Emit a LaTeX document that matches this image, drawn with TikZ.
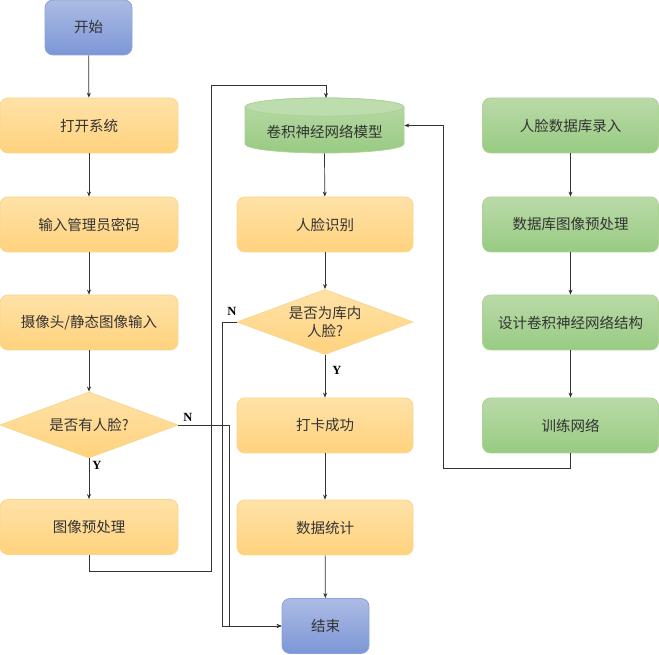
\documentclass[tikz,border=0pt]{standalone}
\usepackage{fontspec}
\newfontfamily\cjk{Noto Sans CJK SC}
\newfontfamily\tnr{Liberation Serif}
\usetikzlibrary{shapes.geometric,arrows.meta}
\definecolor{txt}{HTML}{333333}
\definecolor{ln}{HTML}{333333}
\definecolor{otop}{RGB}{255,226,168}
\definecolor{obot}{RGB}{255,210,125}
\definecolor{odraw}{RGB}{248,214,140}
\definecolor{gtop}{RGB}{186,218,168}
\definecolor{gbot}{RGB}{152,203,130}
\definecolor{gdraw}{RGB}{172,210,150}
\definecolor{gcap}{RGB}{190,221,174}
\definecolor{btop}{RGB}{172,187,228}
\definecolor{bbot}{RGB}{124,151,214}
\definecolor{bdraw}{RGB}{140,163,219}
\tikzset{
  base/.style={font=\cjk\fontsize{14.5}{18}\selectfont, text=txt, inner sep=0pt, line width=0.8pt},
  orangebox/.style={base, rectangle, rounded corners=8pt, minimum width=178pt, minimum height=55pt,
     top color=otop, bottom color=obot, draw=odraw},
  greenbox/.style={base, rectangle, rounded corners=8pt, minimum width=176pt, minimum height=55pt,
     top color=gtop, bottom color=gbot, draw=gdraw},
  bluebox/.style={base, rectangle, rounded corners=8pt, minimum width=87pt, minimum height=55pt,
     top color=btop, bottom color=bbot, draw=bdraw},
  decision/.style={base, diamond, aspect=2.7, align=center, minimum width=178pt, minimum height=66pt,
     top color=otop, bottom color=obot, draw=odraw},
  arr/.style={draw=ln, line width=0.7pt, -{Stealth[length=5pt,width=4pt]}},
  yn/.style={font=\tnr\bfseries\fontsize{12.5}{14}\selectfont, text=black, inner sep=0pt},
}
\begin{document}
\begin{tikzpicture}[x=1pt,y=1pt]
\useasboundingbox (0,0) rectangle (659,655);
% column 1
\node[bluebox] (start) at (88.5,627.5) {开始};
\node[orangebox] (open) at (89,529.5) {打开系统};
\node[orangebox] (pwd) at (89,430.5) {输入管理员密码};
\node[orangebox] (cam) at (89,332.5) {摄像头/静态图像输入};
\node[decision] (d1) at (89,230) {是否有人脸?};
\node[orangebox] (pre) at (89,128) {图像预处理};
% column 2
\node[base, minimum width=159pt, minimum height=55pt] (cyl) at (324.5,529.5) {};
\shade[top color=gtop, bottom color=gbot, draw=gdraw, line width=0.8pt]
  (245,548) -- (245,511) arc[start angle=180,end angle=360,x radius=79.5pt,y radius=9pt]
  -- (404,548) arc[start angle=0,end angle=180,x radius=79.5pt,y radius=9pt] -- cycle;
\fill[gcap] (324.5,548) ellipse[x radius=79.5pt,y radius=9pt];
\draw[gdraw, line width=0.8pt] (324.5,548) ellipse[x radius=79.5pt,y radius=9pt];
\node[base] (cyltext) at (324.5,523) {卷积神经网络模型};
\node[orangebox, minimum width=176pt] (rec) at (325,430.5) {人脸识别};
\node[decision, minimum width=176pt, minimum height=65pt] (d2) at (325,333) {是否为库内\\人脸?};
\node[orangebox, minimum width=176pt] (ok) at (325,229.5) {打卡成功};
\node[orangebox, minimum width=176pt] (stat) at (325,127.5) {数据统计};
\node[bluebox] (end) at (325.5,29) {结束};
% column 3
\node[greenbox] (db) at (570.5,529.5) {人脸数据库录入};
\node[greenbox] (dbpre) at (570.5,430.5) {数据库图像预处理};
\node[greenbox] (design) at (570.5,332.5) {设计卷积神经网络结构};
\node[greenbox] (train) at (570.5,229.5) {训练网络};
% helper coordinates
\coordinate (p1) at (89,84);
\coordinate (p2) at (211,84);
\coordinate (p3) at (211,570);
\coordinate (p4) at (326,570);
\coordinate (p5) at (326,557);
\coordinate (n1) at (229,230);
\coordinate (n1b) at (229,29);
\coordinate (n2) at (222,333);
\coordinate (n2b) at (222,29);
\coordinate (t1) at (570.5,187);
\coordinate (t2) at (443,187);
\coordinate (t3) at (443,529.5);
% connectors
\draw[arr] (start) -- (open);
\draw[arr] (open) -- (pwd);
\draw[arr] (pwd) -- (cam);
\draw[arr] (cam) -- (d1);
\draw[arr] (d1) -- (pre);
\node[yn] (y1) at (97,190) {Y};
\draw[arr] (pre.south) -- (p1) -- (p2) -- (p3) -- (p4) -- (p5);
\draw[arr] (d1.east) -- (n1) -- (n1b) -- (end.west);
\node[yn] (nl1) at (188,238) {N};
\draw[arr] (cyl.south) -- (rec);
\draw[arr] (rec) -- (d2);
\draw[arr] (d2) -- (ok);
\node[yn] (y2) at (337,285) {Y};
\draw[arr] (d2.west) -- (n2) -- (n2b) -- (end.west);
\node[yn] (nl2) at (232,344) {N};
\draw[arr] (ok) -- (stat);
\draw[arr] (stat) -- (end);
\draw[arr] (db) -- (dbpre);
\draw[arr] (dbpre) -- (design);
\draw[arr] (design) -- (train);
\draw[arr] (train.south) -- (t1) -- (t2) -- (t3) -- (cyl.east);
\end{tikzpicture}
\end{document}
